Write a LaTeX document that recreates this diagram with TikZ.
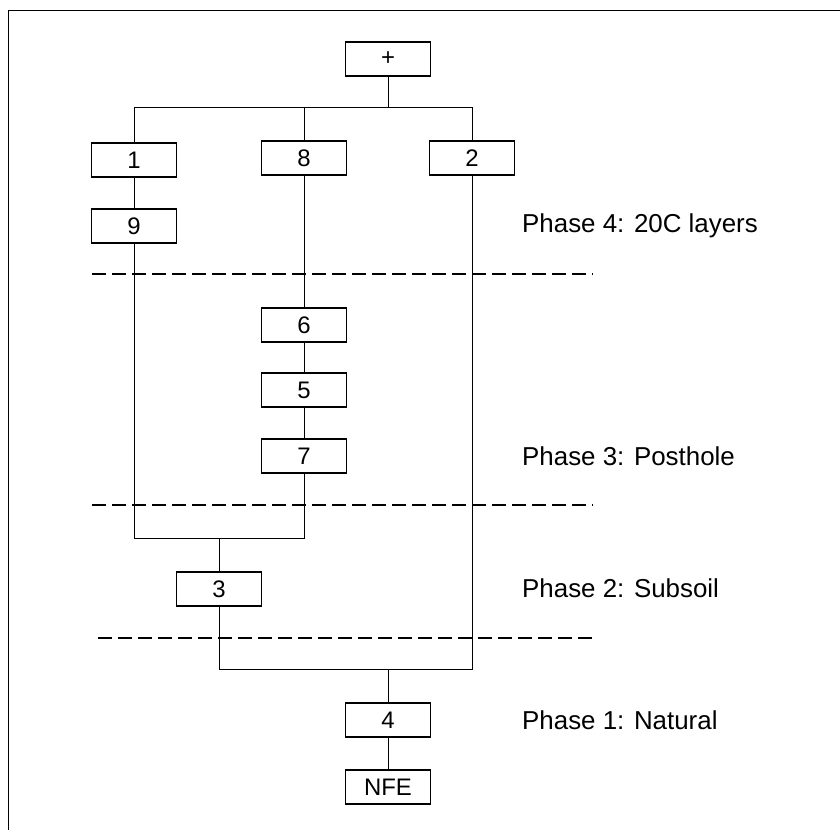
\documentclass[tikz,border=0pt]{standalone}
\usepackage{fontspec}
\setmainfont{Liberation Sans}
\begin{document}
\begin{tikzpicture}[x=1bp, y=-1bp,
    unit/.style={draw, line width=1.3bp, minimum width=85bp, minimum height=34bp, inner sep=0pt, font=\fontsize{24}{24}\selectfont},
    link/.style={line width=1bp},
    phase/.style={anchor=base west, inner sep=0pt, font=\fontsize{26}{26}\selectfont},
    divider/.style={line width=1.1bp, dash pattern=on 14bp off 6bp}]
    \useasboundingbox (0,0) rectangle (840,830);
    % frame (left and top edges only)
    \draw[line width=1bp] (8,830) -- (8,10) -- (840,10);

    % units
    \node[unit] (top) at (388,59) {+};
    \node[unit] (u1) at (134,160) {1};
    \node[unit] (u8) at (304,158) {8};
    \node[unit] (u2) at (472,158) {2};
    \node[unit] (u9) at (134,226) {9};
    \node[unit] (u6) at (304,325) {6};
    \node[unit] (u5) at (304,390) {5};
    \node[unit] (u7) at (304,456) {7};
    \node[unit] (u3) at (219,589) {3};
    \node[unit] (u4) at (388,720) {4};
    \node[unit] (nfe) at (388,787) {NFE};

    % bus junctions
    \coordinate (topbus) at (388,107);
    \coordinate (midbus) at (219,538);
    \coordinate (lowbus) at (388,669);

    % connectors
    \draw[link] (top) -- (topbus);
    \draw[link] (u1.north) -- (u1.north |- topbus) -- (u2.north |- topbus) -- (u2.north);
    \draw[link] (u8.north) -- (u8.north |- topbus);
    \draw[link] (u1) -- (u9);
    \draw[link] (u8) -- (u6);
    \draw[link] (u6) -- (u5);
    \draw[link] (u5) -- (u7);
    \draw[link] (u9.south) -- (u9.south |- midbus) -- (u7.south |- midbus) -- (u7.south);
    \draw[link] (midbus) -- (u3);
    \draw[link] (u3.south) -- (u3.south |- lowbus) -- (u2.south |- lowbus) -- (u2.south);
    \draw[link] (lowbus) -- (u4);
    \draw[link] (u4) -- (nfe);

    % phase dividers
    \draw[divider] (92,274) -- (593,274);
    \draw[divider] (92,505) -- (593,505);
    \draw[divider] (98,638) -- (595,638);

    % phase labels
    \node[phase] (ph4) at (522,232) {Phase 4: 20C layers};
    \node[phase] (ph3) at (522,465) {Phase 3: Posthole};
    \node[phase] (ph2) at (522,597) {Phase 2: Subsoil};
    \node[phase] (ph1) at (522,729) {Phase 1: Natural};
\end{tikzpicture}
\end{document}
